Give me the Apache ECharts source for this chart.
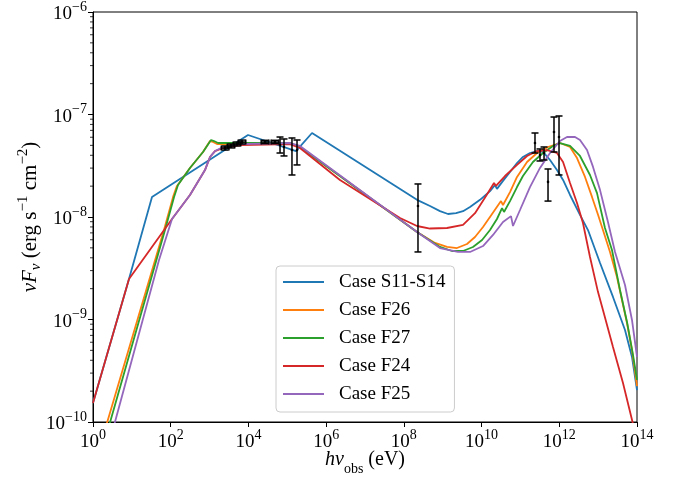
<!DOCTYPE html>
<html>
<head>
<meta charset="utf-8">
<script src="https://cdn.jsdelivr.net/npm/echarts@6/dist/echarts.min.js"></script>
<style>html,body{margin:0;padding:0;background:#fff}#c{width:681px;height:477px}</style>
</head>
<body>
<div id="c"></div>
<script>
// ---- data (photon energy in eV, nuFnu in erg s^-1 cm^-2) ----
const seriesNames = ['Case S11-S14', 'Case F26', 'Case F27', 'Case F24', 'Case F25'];
const seriesColors = ['#1f77b4', '#ff7f0e', '#2ca02c', '#d62728', '#9467bd'];

const caseS11S14 = [[1,1.53e-10],[8.44,2.48e-9],[33.0,1.57e-8],[9750,6.31e-8],[1.675e5,4.40e-8],[4.33e5,6.60e-8],[2.18e8,1.47e-8],[4.71e8,1.28e-8],[8.51e8,1.14e-8],[1.37e9,1.07e-8],[2.20e9,1.09e-8],[3.33e9,1.14e-8],[5.04e9,1.25e-8],[9.12e9,1.47e-8],[1.65e10,1.79e-8],[2.22e10,2.05e-8],[2.49e10,1.88e-8],[3.56e10,2.25e-8],[5.39e10,2.75e-8],[8.17e10,3.36e-8],[1.16e11,3.85e-8],[1.76e11,4.21e-8],[2.67e11,4.40e-8],[3.81e11,4.31e-8],[5.77e11,3.60e-8],[8.73e11,2.87e-8],[1.25e12,2.30e-8],[1.89e12,1.64e-8],[3.41e12,1.05e-8],[5.48e12,7.46e-9],[1.12e13,3.56e-9],[2.41e13,1.66e-9],[4.91e13,7.90e-10],[7.43e13,4.31e-10],[1e14,2.05e-10]];

const caseF26 = [[1.92,7.81e-11],[67.1,7.46e-9],[115,1.57e-8],[145,2.01e-8],[313,3.01e-8],[678,4.31e-8],[1026,5.51e-8],[1225,5.39e-8],[1552,5.15e-8],[3357,5.15e-8],[1.175e5,5.27e-8],[2.12e5,4.82e-8],[2.18e8,7.14e-9],[6.34e8,5.58e-9],[1.29e9,5.10e-9],[2.33e9,4.98e-9],[4.22e9,5.45e-9],[6.78e9,6.38e-9],[1.09e10,7.99e-9],[1.86e10,1.07e-8],[3.16e10,1.43e-8],[3.56e10,1.31e-8],[5.39e10,1.75e-8],[8.17e10,2.46e-8],[1.48e11,3.44e-8],[2.67e11,4.21e-8],[5.13e11,4.82e-8],[1.04e12,5.27e-8],[1.89e12,4.82e-8],[2.86e12,3.76e-8],[4.59e12,2.46e-8],[6.95e12,1.57e-8],[9.93e12,1.05e-8],[1.33e13,7.46e-9],[2.02e13,4.56e-9],[3.05e13,2.60e-9],[5.53e13,9.25e-10],[7.43e13,5.04e-10],[1e14,2.24e-10]];

const caseF27 = [[2.29,7.81e-11],[71.3,7.46e-9],[122,1.57e-8],[154,2.05e-8],[313,3.01e-8],[678,4.31e-8],[1089,5.64e-8],[1300,5.51e-8],[1648,5.27e-8],[1.175e5,5.27e-8],[2.12e5,4.82e-8],[2.18e8,7.14e-9],[8.51e8,5.10e-9],[1.73e9,4.66e-9],[3.33e9,4.66e-9],[6.01e9,5.10e-9],[1.03e10,5.97e-9],[1.65e10,7.46e-9],[2.49e10,9.56e-9],[3.36e10,1.22e-8],[3.78e10,1.12e-8],[5.39e10,1.43e-8],[8.17e10,1.96e-8],[1.16e11,2.51e-8],[2.10e11,3.44e-8],[3.81e11,4.21e-8],[6.89e11,4.93e-8],[1.04e12,5.27e-8],[1.89e12,4.93e-8],[3.41e12,3.94e-8],[6.17e12,2.57e-8],[9.35e12,1.71e-8],[1.50e13,7.81e-9],[2.27e13,4.76e-9],[3.65e13,1.94e-9],[5.53e13,9.46e-10],[7.89e13,4.51e-10],[1e14,2.57e-10]];

const caseF24 = [[1,1.53e-10],[8.44,2.48e-9],[108,9.56e-9],[313,1.64e-8],[762,2.87e-8],[1026,3.85e-8],[1380,4.40e-8],[2218,4.71e-8],[6067,5.04e-8],[1.175e5,5.15e-8],[2.12e5,4.71e-8],[2.27e6,2.30e-8],[7.96e7,9.78e-9],[2.18e8,8.17e-9],[4.71e8,7.72e-9],[1.29e9,7.81e-9],[3.33e9,8.36e-9],[6.78e9,1.09e-8],[1.30e10,1.60e-8],[2.09e10,2.15e-8],[2.35e10,2.01e-8],[4.01e10,2.51e-8],[8.17e10,3.22e-8],[1.48e11,3.94e-8],[2.67e11,4.40e-8],[4.83e11,4.50e-8],[8.73e11,4.21e-8],[1.25e12,3.44e-8],[1.89e12,2.15e-8],[2.86e12,1.37e-8],[4.07e12,8.74e-9],[6.17e12,4.07e-9],[9.93e12,1.85e-9],[1.33e13,1.24e-9],[2.41e13,5.39e-10],[4.36e13,2.40e-10],[7.43e13,1.05e-10],[8.87e13,7.99e-11]];

const caseF25 = [[3.08,7.81e-11],[50.0,3.81e-9],[108,9.56e-9],[313,1.64e-8],[762,2.87e-8],[1026,3.85e-8],[1380,4.40e-8],[2218,4.82e-8],[6067,5.15e-8],[1.175e5,5.27e-8],[2.12e5,4.93e-8],[2.18e8,7.14e-9],[8.51e8,4.98e-9],[2.47e9,4.56e-9],[5.04e9,4.56e-9],[1.09e10,5.21e-9],[1.97e10,6.68e-9],[3.56e10,8.94e-9],[5.72e10,1.02e-8],[6.44e10,8.17e-9],[9.75e10,1.17e-8],[1.76e11,1.96e-8],[3.19e11,3.01e-8],[5.77e11,4.21e-8],[1.04e12,5.51e-8],[1.58e12,6.03e-8],[2.54e12,6.03e-8],[3.41e12,5.64e-8],[5.17e12,4.50e-8],[7.38e12,3.08e-8],[1.12e13,1.83e-8],[1.79e13,8.94e-9],[2.72e13,4.56e-9],[4.91e13,2.17e-9],[7.43e13,9.89e-10],[1e14,4.31e-10]];

// observed points with error bars
const obsE    = [2.5e3, 3.56e3, 5.08e3, 6.83e3, 2.67e4, 4.83e4, 6.50e4, 8.23e4, 1.32e5, 1.78e5, 2.31e8, 2.37e11, 3.19e11, 4.05e11, 5.13e11, 7.31e11, 9.84e11];
const obsF    = [4.71e-8, 4.93e-8, 5.15e-8, 5.39e-8, 5.39e-8, 5.39e-8, 5.04e-8, 4.82e-8, 4.50e-8, 4.50e-8, 1.28e-8, 5.27e-8, 4.03e-8, 4.21e-8, 2.20e-8, 6.75e-8, 6.03e-8];
const obsFLo  = [4.5e-8, 4.72e-8, 4.93e-8, 5.15e-8, 5.2e-8, 5.2e-8, 4.21e-8, 3.94e-8, 2.57e-8, 3.22e-8, 4.56e-9, 4.21e-8, 3.52e-8, 3.60e-8, 1.43e-8, 4.31e-8, 2.57e-8];
const obsFHi  = [4.93e-8, 5.15e-8, 5.39e-8, 5.63e-8, 5.6e-8, 5.6e-8, 6.03e-8, 5.77e-8, 5.90e-8, 5.64e-8, 2.10e-8, 6.60e-8, 4.61e-8, 4.82e-8, 2.94e-8, 9.45e-8, 9.67e-8];
const obsELo  = [2.0e3, 2.85e3, 4.05e3, 5.45e3, 2.13e4, 3.85e4, 6.5e4, 8.23e4, 1.32e5, 1.78e5, 2.31e8, 2.37e11, 3.19e11, 4.05e11, 5.13e11, 7.31e11, 9.84e11];
const obsEHi  = [3.15e3, 4.45e3, 6.35e3, 8.55e3, 3.35e4, 6.05e4, 6.5e4, 8.23e4, 1.32e5, 1.78e5, 2.31e8, 2.37e11, 3.19e11, 4.05e11, 5.13e11, 7.31e11, 9.84e11];

// axis ticks (exponents of 10)
const xTickExps = [0, 2, 4, 6, 8, 10, 12, 14];
const yTickExps = [-10, -9, -8, -7, -6];
const yMinorMultipliers = [2, 3, 4, 5, 6, 7, 8, 9];

// ---- chart ----
const FONT = "'Liberation Serif', 'DejaVu Serif', serif";
const supRich = {
  b: {fontFamily: FONT, fontSize: 19, color: '#000', lineHeight: 24, verticalAlign: 'bottom'},
  s: {fontFamily: FONT, fontSize: 14, color: '#000', lineHeight: 12, verticalAlign: 'top'}
};
function expLabel(v) {
  const e = Math.round(Math.log10(v));
  return '{b|10}{s|' + String(e).replace('-', '\u2212') + '}';
}

const curves = [caseS11S14, caseF26, caseF27, caseF24, caseF25];
const lineSeries = curves.map((d, i) => ({
  name: seriesNames[i], type: 'line', data: d, symbol: 'none', showSymbol: false,
  lineStyle: {color: seriesColors[i], width: 1.8}, itemStyle: {color: seriesColors[i]},
  clip: true, z: 2 + i * 0.01, animation: false
}));

const obsData = obsE.map((e, i) => [e, obsF[i], obsFLo[i], obsFHi[i], obsELo[i], obsEHi[i]]);

const minorTicks = [];
yTickExps.slice(0, -1).forEach(e => yMinorMultipliers.forEach(m => minorTicks.push([1, m * Math.pow(10, e)])));

const chart = echarts.init(document.getElementById('c'), null, {renderer: 'canvas'});
chart.setOption({
  animation: false,
  backgroundColor: '#fff',
  grid: {left: 93, top: 12, width: 544, height: 410, show: true, borderColor: '#000', borderWidth: 1,
         backgroundColor: 'transparent', containLabel: false, outerBoundsMode: 'none'},
  xAxis: {
    type: 'log', logBase: 10, min: 1, max: 1e14, interval: 2,
    axisLine: {show: true, lineStyle: {color: '#000', width: 1}},
    axisTick: {show: true, length: 5, lineStyle: {color: '#000', width: 1}},
    splitLine: {show: false},
    axisLabel: {margin: 6, formatter: expLabel, rich: supRich},
    name: '{i|h\u03bd}{sb|obs}{r| (eV)}', nameLocation: 'middle', nameGap: 28, nameMoveOverlap: false,
    nameTextStyle: {rich: {
      i: {fontFamily: FONT, fontSize: 20, fontStyle: 'italic', color: '#000', lineHeight: 26, verticalAlign: 'top'},
      sb: {fontFamily: FONT, fontSize: 14, color: '#000', lineHeight: 14, verticalAlign: 'bottom'},
      r: {fontFamily: FONT, fontSize: 20, color: '#000', lineHeight: 26, verticalAlign: 'top'}
    }}
  },
  yAxis: {
    type: 'log', logBase: 10, min: 1e-10, max: 1e-6, interval: 1,
    axisLine: {show: true, lineStyle: {color: '#000', width: 1}},
    axisTick: {show: true, length: 5, lineStyle: {color: '#000', width: 1}},
    splitLine: {show: false},
    axisLabel: {margin: 6, formatter: expLabel, rich: supRich},
    name: '{i|\u03bdF}{sb|\u03bd}{r| (erg s}{sp|\u22121}{r| cm}{sp|\u22122}{r|)}',
    nameLocation: 'middle', nameRotate: 90, nameGap: 49, nameMoveOverlap: false,
    nameTextStyle: {rich: {
      i: {fontFamily: FONT, fontSize: 21, fontStyle: 'italic', color: '#000', lineHeight: 28, verticalAlign: 'middle'},
      sb: {fontFamily: FONT, fontSize: 15, fontStyle: 'italic', color: '#000', lineHeight: 12, verticalAlign: 'bottom'},
      r: {fontFamily: FONT, fontSize: 21, color: '#000', lineHeight: 28, verticalAlign: 'middle'},
      sp: {fontFamily: FONT, fontSize: 15, color: '#000', lineHeight: 12, verticalAlign: 'top'}
    }}
  },
  legend: {
    data: seriesNames, orient: 'vertical', left: 276, top: 266,
    icon: 'rect', itemWidth: 41, itemHeight: 2, itemGap: 8,
    padding: [6, 9, 8, 7],
    backgroundColor: '#fff', borderColor: '#cccccc', borderWidth: 1, borderRadius: 4,
    textStyle: {fontFamily: FONT, fontSize: 19, color: '#000', lineHeight: 20, padding: [0, 0, 0, 10]}
  },
  series: [
    ...lineSeries,
    {
      type: 'custom', name: 'obs', data: obsData, z: 5, clip: false, silent: true,
      encode: {x: 0, y: 1},
      renderItem: function (params, api) {
        const x = api.value(0), y = api.value(1);
        const c = api.coord([x, y]);
        const lo = api.coord([x, api.value(2)]);
        const hi = api.coord([x, api.value(3)]);
        const xl = api.coord([api.value(4), y]);
        const xh = api.coord([api.value(5), y]);
        const st = {stroke: '#000', lineWidth: 1.5, fill: null};
        const cap = 3.5;
        const ch = [
          {type: 'line', shape: {x1: lo[0], y1: lo[1], x2: hi[0], y2: hi[1]}, style: st},
          {type: 'line', shape: {x1: lo[0] - cap, y1: lo[1], x2: lo[0] + cap, y2: lo[1]}, style: st},
          {type: 'line', shape: {x1: hi[0] - cap, y1: hi[1], x2: hi[0] + cap, y2: hi[1]}, style: st},
          {type: 'circle', shape: {cx: c[0], cy: c[1], r: 1.3}, style: {fill: '#000'}}
        ];
        if (xh[0] - xl[0] > 1) {
          ch.push({type: 'line', shape: {x1: xl[0], y1: c[1], x2: xh[0], y2: c[1]}, style: st});
          ch.push({type: 'line', shape: {x1: xl[0], y1: c[1] - 2.5, x2: xl[0], y2: c[1] + 2.5}, style: st});
          ch.push({type: 'line', shape: {x1: xh[0], y1: c[1] - 2.5, x2: xh[0], y2: c[1] + 2.5}, style: st});
        }
        return {type: 'group', children: ch};
      }
    },
    {
      type: 'custom', name: 'minorTicks', data: minorTicks, z: 6, clip: false, silent: true,
      encode: {x: 0, y: 1},
      renderItem: function (params, api) {
        const p = api.coord([api.value(0), api.value(1)]);
        return {type: 'line', shape: {x1: p[0] - 3, y1: p[1], x2: p[0], y2: p[1]}, style: {stroke: '#000', lineWidth: 0.8}};
      }
    }
  ]
});
</script>
</body>
</html>
